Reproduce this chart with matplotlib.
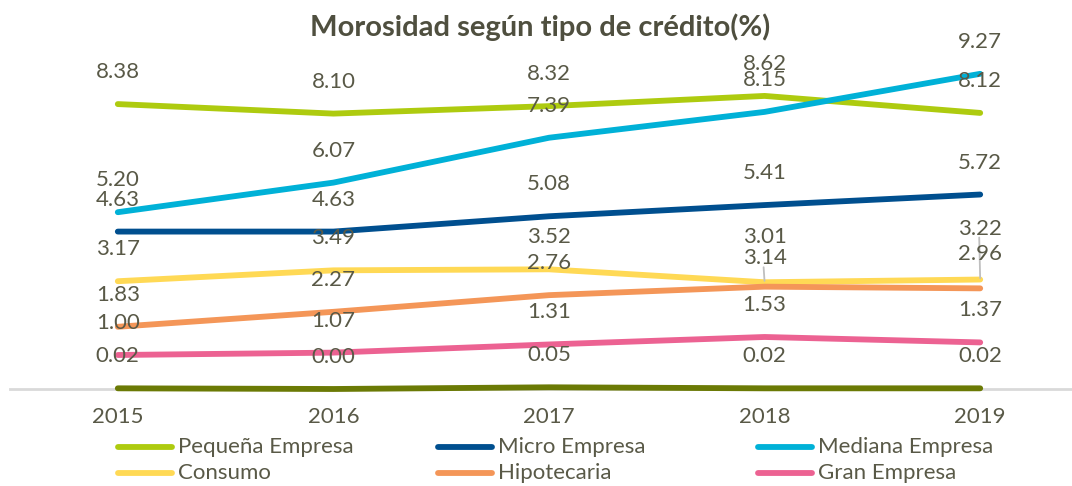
import matplotlib
matplotlib.use("Agg")
import matplotlib.pyplot as plt
from matplotlib.lines import Line2D

years = [2015, 2016, 2017, 2018, 2019]
pequena = [8.38, 8.10, 8.32, 8.62, 8.12]
micro = [4.63, 4.63, 5.08, 5.41, 5.72]
mediana = [5.20, 6.07, 7.39, 8.15, 9.27]
consumo = [3.17, 3.49, 3.52, 3.14, 3.22]
hipotecaria = [1.83, 2.27, 2.76, 3.01, 2.96]
gran = [1.00, 1.07, 1.31, 1.53, 1.37]
otros = [0.02, 0.00, 0.05, 0.02, 0.02]

series = [
    ("Pequeña Empresa", pequena, "#AECB0F"),
    ("Micro Empresa", micro, "#004F8F"),
    ("Mediana Empresa", mediana, "#00B1D7"),
    ("Consumo", consumo, "#FFD955"),
    ("Hipotecaria", hipotecaria, "#F49658"),
    ("Gran Empresa", gran, "#EC6292"),
    (None, otros, "#6B7A05"),
]

# label offsets in pixels (default above point), with a few moved labels
default_off = 32
special_off = {("Consumo", 3): 24, ("Consumo", 4): 51,
               ("Hipotecaria", 3): 50, ("Hipotecaria", 4): 34}
leaders = {("Consumo", 3), ("Consumo", 4)}

TXT = "#595947"
FS = 16
plt.rcParams['font.family'] = ['Lato', 'DejaVu Sans']

fig = plt.figure(figsize=(10.72, 4.86), dpi=100)
W, H = 1072, 486
ax = fig.add_axes([10 / W, (H - 389) / H, 1078 / W, 340 / H])
ax.set_xlim(2014.5, 2019.5)
ax.set_ylim(0, 10)
for s in ["top", "right", "left"]:
    ax.spines[s].set_visible(False)
ax.spines["bottom"].set_color("#D9D9D9")
ax.spines["bottom"].set_linewidth(2)
ax.set_yticks([])
ax.set_xticks(years)
ax.set_xticklabels([str(y) for y in years])
ax.tick_params(axis="x", length=0, pad=13, labelsize=FS, labelcolor=TXT)

for name, vals, col in series:
    ax.plot(years, vals, color=col, lw=4.2, solid_capstyle="round",
            solid_joinstyle="round", clip_on=False, zorder=3)
for name, vals, col in series:
    for i, (x, v) in enumerate(zip(years, vals)):
        off = special_off.get((name, i), default_off)
        ax.annotate(f"{v:.2f}", (x, v), xytext=(0, off), textcoords="offset pixels",
                    ha="center", va="center", fontsize=FS, color=TXT, zorder=5)
        if (name, i) in leaders:
            ax.annotate("", (x, v), xytext=(-1, off - 9), textcoords="offset pixels",
                        arrowprops=dict(arrowstyle="-", color="#BFBFBF", lw=1.3,
                                        shrinkA=0, shrinkB=1), zorder=4)

fig.text(0.5 + 4 / W, 1 - 27 / H, "Morosidad según tipo de crédito(%)", ha="center", va="center",
         fontsize=21, fontweight="bold", color="#4F4F3F")

# legend drawn manually: 3 columns, 2 rows
named = [(n, c) for n, v, c in series if n]
col_x = [118, 438, 758]
row_y = [447, 473]
for k, (n, c) in enumerate(named):
    cx = col_x[k % 3]
    ry = row_y[k // 3]
    fig.add_artist(Line2D([cx / W, (cx + 54) / W], [1 - ry / H, 1 - ry / H], color=c, lw=4.2,
                          solid_capstyle="round", transform=fig.transFigure))
    fig.text((cx + 60) / W, 1 - ry / H, n, ha="left", va="center", fontsize=FS, color=TXT)

fig.savefig("out.png", dpi=100)
